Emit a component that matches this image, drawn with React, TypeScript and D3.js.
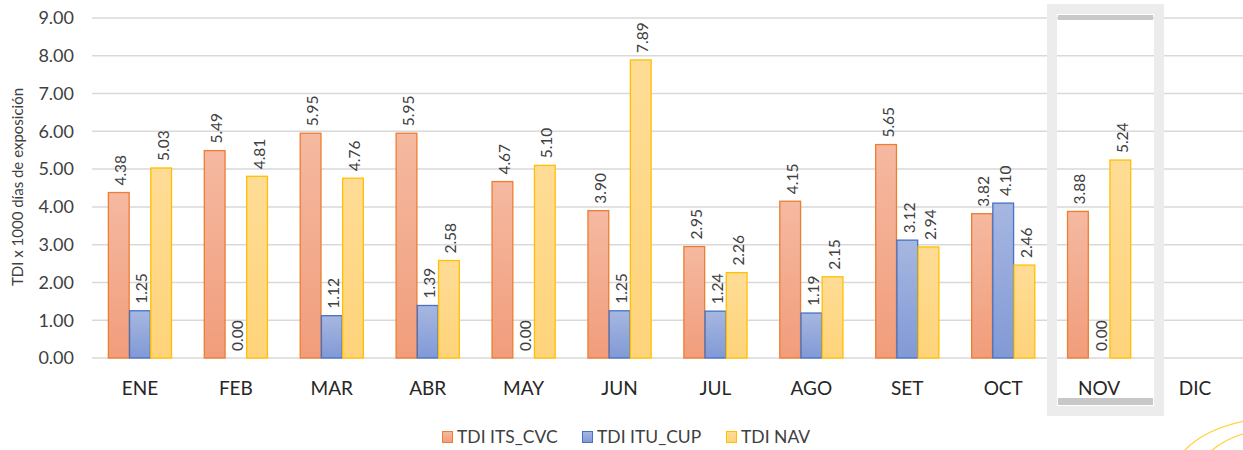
import React from "react";
import * as d3 from "d3";

const months = ["ENE", "FEB", "MAR", "ABR", "MAY", "JUN", "JUL", "AGO", "SET", "OCT", "NOV", "DIC"];
const itsCvc: (number | null)[] = [4.38, 5.49, 5.95, 5.95, 4.67, 3.9, 2.95, 4.15, 5.65, 3.82, 3.88, null];
const ituCup: (number | null)[] = [1.25, 0.0, 1.12, 1.39, 0.0, 1.25, 1.24, 1.19, 3.12, 4.1, 0.0, null];
const nav: (number | null)[] = [5.03, 4.81, 4.76, 2.58, 5.1, 7.89, 2.26, 2.15, 2.94, 2.46, 5.24, null];
const yTicks = [0, 1, 2, 3, 4, 5, 6, 7, 8, 9];

const series = [
  { key: "its", name: "TDI ITS_CVC", values: itsCvc, top: "#F5B9A1", bottom: "#F19D7B", stroke: "#ED7D31" },
  { key: "itu", name: "TDI ITU_CUP", values: ituCup, top: "#A6B7E0", bottom: "#8199D6", stroke: "#4472C4" },
  { key: "nav", name: "TDI NAV", values: nav, top: "#FFDC96", bottom: "#FFD37A", stroke: "#FFC000" },
];

const W = 1243;
const H = 450;
const FONT = "Lato, 'Open Sans', sans-serif";

export default function App() {
  const x = d3.scaleBand<string>().domain(months).range([92, 1243]).padding(0);
  const inner = d3
    .scaleBand<string>()
    .domain(series.map((s) => s.key))
    .range([-32, 32])
    .padding(0.02);
  const y = d3.scaleLinear().domain([0, 9]).range([358, 18]);

  const legendX = [442, 582, 726];

  return (
    <svg width={W} height={H} style={{ position: "absolute", left: 0, top: 0, background: "#fff" }} fontFamily={FONT}>
      <defs>
        {series.map((s) => (
          <linearGradient key={s.key} id={`g-${s.key}`} x1="0" y1="0" x2="0" y2="1">
            <stop offset="0" stopColor={s.top} />
            <stop offset="1" stopColor={s.bottom} />
          </linearGradient>
        ))}
      </defs>

      {/* grid */}
      {yTicks.map((t) => (
        <g key={t}>
          <line x1={92} x2={W} y1={y(t)} y2={y(t)} stroke="#d9d9d9" strokeWidth={1.5} />
          <text x={74} y={y(t)} dy="0.35em" textAnchor="end" fontSize={18} fill="#404040">
            {t.toFixed(2)}
          </text>
        </g>
      ))}

      {/* y title */}
      <text
        transform={`translate(18,${187}) rotate(-90)`}
        textAnchor="middle"
        dy="0.35em"
        fontSize={15}
        fill="#404040"
      >
        TDI x 1000 días de exposición
      </text>

      {/* highlight box around NOV */}
      <rect x={1052} y={9} width={107} height={402} fill="none" stroke="#ececec" strokeWidth={10} />
      <rect x={1058} y={15} width={95} height={5} fill="#c8c8c8" />
      <rect x={1058} y={398} width={95} height={7} fill="#c8c8c8" />

      {/* bars */}
      {months.map((m, i) => (
        <g key={m} transform={`translate(${(x(m) ?? 0) + x.bandwidth() / 2},0)`}>
          {series.map((s) => {
            const v = s.values[i];
            if (v === null) return null;
            const bx = inner(s.key) ?? 0;
            const bw = inner.bandwidth();
            return (
              <g key={s.key}>
                {v > 0 && (
                  <rect
                    x={bx}
                    y={y(v)}
                    width={bw}
                    height={y(0) - y(v)}
                    fill={`url(#g-${s.key})`}
                    stroke={s.stroke}
                    strokeWidth={1.3}
                  />
                )}
                <text
                  transform={`translate(${bx + bw / 2 + 2},${y(v) - 7}) rotate(-90)`}
                  dy="0.35em"
                  fontSize={15.5}
                  fill="#404040"
                >
                  {v.toFixed(2)}
                </text>
              </g>
            );
          })}
          <text y={388} dy="0.35em" textAnchor="middle" fontSize={19} fill="#262626">
            {m}
          </text>
        </g>
      ))}

      {/* legend */}
      {series.map((s, i) => (
        <g key={s.key} transform={`translate(${legendX[i]},437)`}>
          <rect x={0.5} y={-5.5} width={10} height={11} fill={`url(#g-${s.key})`} stroke={s.stroke} strokeWidth={1} />
          <text x={15} dy="0.35em" fontSize={17.5} fill="#404040">
            {s.name}
          </text>
        </g>
      ))}

      {/* decorative arcs */}
      <path d="M1183,452 Q1205,428 1250,420" fill="none" stroke="#FFD23F" strokeWidth={1.3} />
      <path d="M1210,452 Q1225,438 1250,432" fill="none" stroke="#FFD23F" strokeWidth={1.3} />
    </svg>
  );
}
